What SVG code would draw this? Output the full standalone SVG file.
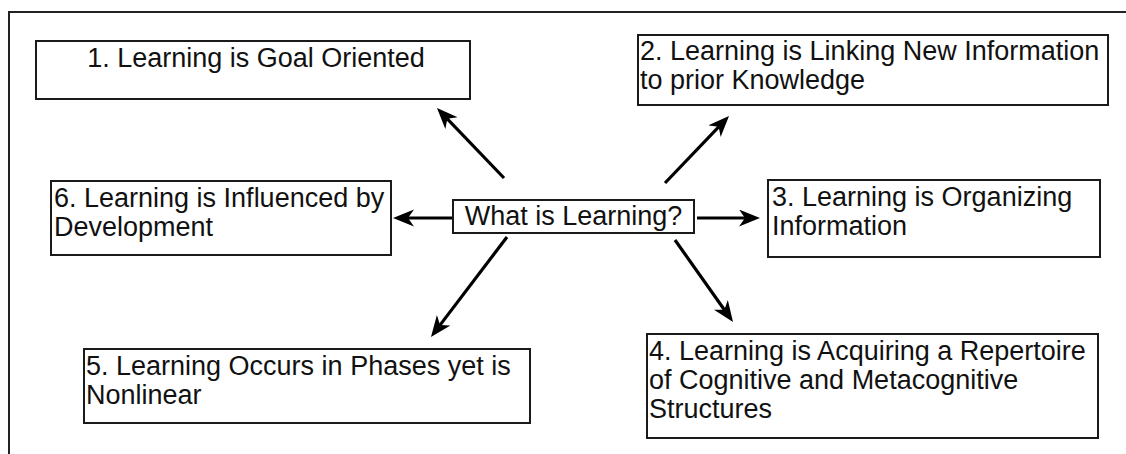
<svg xmlns="http://www.w3.org/2000/svg" width="1126" height="454" viewBox="0 0 1126 454">
  <style>
    .box { fill: #fff; stroke: #1a1a1a; stroke-width: 2; }
    .frame { fill: none; stroke: #222; stroke-width: 2; }
    .lbl { font-family: "Liberation Sans", Arial, sans-serif; font-size: 27px; fill: #111; }
    .conn { stroke: #000; stroke-width: 3.2; fill: none; marker-end: url(#arr); }
  </style>
  <defs>
    <marker id="arr" markerUnits="userSpaceOnUse" markerWidth="22" markerHeight="18" refX="13" refY="8.5" orient="auto">
      <path d="M0,0 L21,8.5 L0,17 L6,8.5 Z" fill="#000"/>
    </marker>
  </defs>
  <rect width="1126" height="454" fill="#fff"/>
  <path class="frame" d="M9,470 L9,12 L1140,12"/>

  <g id="connectors">
    <line class="conn" x1="504" y1="178" x2="442.5" y2="113.8"/>
    <line class="conn" x1="665" y1="183" x2="723.5" y2="121.8"/>
    <line class="conn" x1="697" y1="218" x2="752" y2="218"/>
    <line class="conn" x1="452" y1="218" x2="401" y2="218"/>
    <line class="conn" x1="507" y1="237" x2="435.8" y2="330.6"/>
    <line class="conn" x1="675" y1="240" x2="728.4" y2="315.5"/>
  </g>

  <g id="center">
    <rect class="box" x="453" y="200" width="241" height="33"/>
    <text class="lbl" x="573.5" y="225" text-anchor="middle">What is Learning?</text>
  </g>

  <g id="node1">
    <rect class="box" x="36" y="41" width="434" height="58"/>
    <text class="lbl" x="256" y="67" text-anchor="middle">1. Learning is Goal Oriented</text>
  </g>

  <g id="node2">
    <rect class="box" x="638" y="35" width="470" height="70"/>
    <text class="lbl" x="640" y="60">2. Learning is Linking New Information</text>
    <text class="lbl" x="640" y="89">to prior Knowledge</text>
  </g>

  <g id="node3">
    <rect class="box" x="768" y="180" width="332" height="77"/>
    <text class="lbl" x="772" y="206">3. Learning is Organizing</text>
    <text class="lbl" x="772" y="235">Information</text>
  </g>

  <g id="node4">
    <rect class="box" x="647" y="334" width="451" height="104"/>
    <text class="lbl" x="649" y="360">4. Learning is Acquiring a Repertoire</text>
    <text class="lbl" x="649" y="389">of Cognitive and Metacognitive</text>
    <text class="lbl" x="649" y="418">Structures</text>
  </g>

  <g id="node5">
    <rect class="box" x="84" y="349" width="446" height="74"/>
    <text class="lbl" x="86" y="375">5. Learning Occurs in Phases yet is</text>
    <text class="lbl" x="86" y="404">Nonlinear</text>
  </g>

  <g id="node6">
    <rect class="box" x="51" y="181" width="340" height="74"/>
    <text class="lbl" x="54" y="207">6. Learning is Influenced by</text>
    <text class="lbl" x="54" y="236">Development</text>
  </g>
</svg>
